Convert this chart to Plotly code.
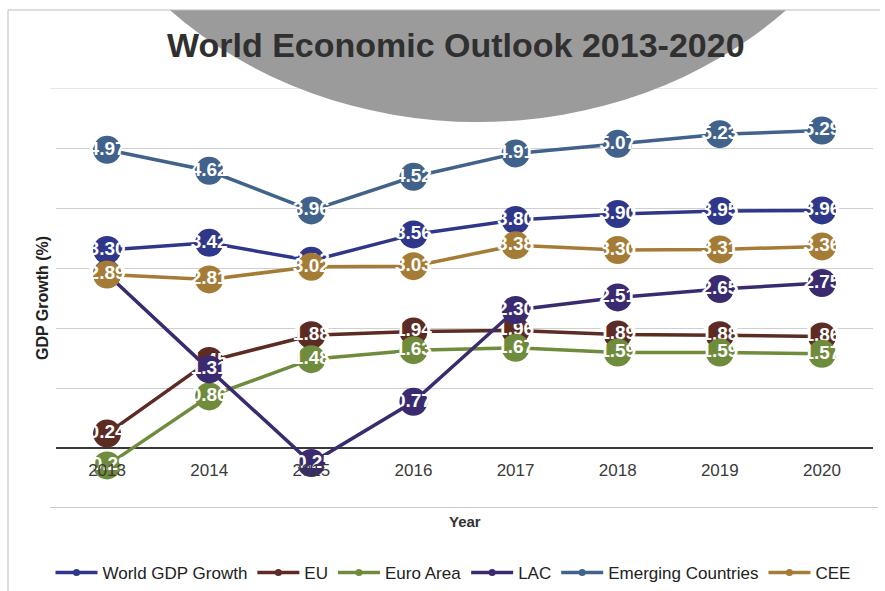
import plotly.graph_objects as go

# Data (GDP growth, %)
years = ["2013", "2014", "2015", "2016", "2017", "2018", "2019", "2020"]
world_gdp = [3.30, 3.42, 3.12, 3.56, 3.80, 3.90, 3.95, 3.96]
eu = [0.24, 1.45, 1.88, 1.94, 1.96, 1.89, 1.88, 1.86]
euro_area = [-0.29, 0.86, 1.48, 1.63, 1.67, 1.59, 1.59, 1.57]
lac = [2.90, 1.31, -0.25, 0.77, 2.30, 2.51, 2.65, 2.75]
emerging = [4.97, 4.62, 3.96, 4.52, 4.91, 5.07, 5.23, 5.29]
cee = [2.89, 2.81, 3.02, 3.03, 3.38, 3.30, 3.31, 3.36]

series_names = ["World GDP Growth", "EU", "Euro Area", "LAC", "Emerging Countries", "CEE"]
series_values = [world_gdp, eu, euro_area, lac, emerging, cee]
series_colors = ["#2f378a", "#5c2b24", "#6f8b3c", "#3a2b70", "#41628a", "#a57c36"]

W, H = 885, 591
L, R, T, B = 56, 12, 88, 83
PW, PH = W - L - R, H - T - B
Y_MIN, Y_MAX = -1, 6


def px_x(x):
    return (x - L) / PW


def px_y(y):
    return (H - B - y) / PH


fig = go.Figure()

for name, vals, col in zip(series_names, series_values, series_colors):
    fig.add_trace(go.Scatter(
        x=years, y=vals, name=name, mode="lines+markers+text",
        line=dict(color=col, width=3.5),
        marker=dict(size=28, color=col),
        texttemplate="%{y:.2f}", textposition="middle center",
        textfont=dict(family="Liberation Sans", size=19, color="white", weight="bold"),
        showlegend=False, cliponaxis=False, hoverinfo="skip",
    ))

# legend entries with small markers
for name, col in zip(series_names, series_colors):
    fig.add_trace(go.Scatter(
        x=[None], y=[None], name=name, mode="lines+markers",
        line=dict(color=col, width=3.5), marker=dict(size=7, color=col),
    ))

shapes = [
    # outer gridlines at the top and bottom of the value range
    dict(type="line", xref="paper", yref="y",
         x0=px_x(50), x1=px_x(878), y0=Y_MIN, y1=Y_MIN,
         line=dict(color="#9a9a9a", width=1.2), layer="below"),
    dict(type="line", xref="paper", yref="y",
         x0=px_x(50), x1=px_x(878), y0=Y_MAX, y1=Y_MAX,
         line=dict(color="#cfcfcf", width=1), layer="below"),
    # grey backdrop behind the title
    dict(type="circle", xref="paper", yref="paper",
         x0=px_x(478 - 436), x1=px_x(478 + 436),
         y0=px_y(-260 - 382), y1=px_y(122),
         fillcolor="#9b9b9b", line=dict(width=0), layer="above"),
    dict(type="rect", xref="paper", yref="paper",
         x0=px_x(-5), x1=px_x(W + 5), y0=px_y(10), y1=px_y(-700),
         fillcolor="white", line=dict(width=0), layer="above"),
    # outer frame
    dict(type="line", xref="paper", yref="paper",
         x0=px_x(8), x1=px_x(880), y0=px_y(10), y1=px_y(10),
         line=dict(color="#bdbdbd", width=1), layer="above"),
    dict(type="line", xref="paper", yref="paper",
         x0=px_x(8), x1=px_x(8), y0=px_y(10), y1=px_y(H + 5),
         line=dict(color="#bdbdbd", width=1), layer="above"),
]

annotations = [
    dict(text="World Economic Outlook 2013-2020", xref="paper", yref="paper",
         x=px_x(456), y=px_y(45), xanchor="center", yanchor="middle", showarrow=False,
         font=dict(family="Liberation Sans", size=34, color="#303030", weight="bold")),
    dict(text="GDP Growth (%)", xref="paper", yref="paper",
         x=px_x(42), y=px_y(298), xanchor="center", yanchor="middle",
         showarrow=False, textangle=-90,
         font=dict(family="Liberation Sans", size=16, color="#222222", weight="bold")),
    dict(text="Year", xref="paper", yref="paper",
         x=px_x(465), y=px_y(521), xanchor="center", yanchor="middle", showarrow=False,
         font=dict(family="Liberation Sans", size=15, color="#333333", weight="bold")),
]

fig.update_layout(
    width=W, height=H,
    margin=dict(l=L, r=R, t=T, b=B, pad=0, autoexpand=False),
    paper_bgcolor="white", plot_bgcolor="white",
    shapes=shapes, annotations=annotations,
    xaxis=dict(
        type="category", categoryorder="array", categoryarray=years,
        range=[-0.5, len(years) - 0.5],
        anchor="free", position=(0 - Y_MIN) / (Y_MAX - Y_MIN),
        showgrid=False, showline=False, zeroline=False, ticks="",
        tickfont=dict(family="Liberation Sans", size=17, color="#3a3a3a"),
        ticklabelstandoff=10,
    ),
    yaxis=dict(
        range=[Y_MIN, Y_MAX], dtick=1, tick0=0,
        showgrid=True, gridcolor="#cfcfcf", gridwidth=1,
        zeroline=True, zerolinecolor="#3a3a3a", zerolinewidth=1.5,
        showticklabels=False, ticks="", showline=False,
    ),
    legend=dict(
        orientation="h", x=px_x(453), xanchor="center", y=px_y(573), yanchor="middle",
        font=dict(family="Liberation Sans", size=17, color="#222222"),
        itemwidth=42, tracegroupgap=0, bgcolor="rgba(0,0,0,0)",
    ),
)

fig.write_html("out.html")
